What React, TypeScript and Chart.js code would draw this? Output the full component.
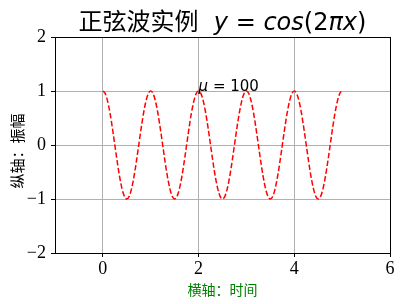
import React, { useEffect, useRef } from "react";
import { Chart, registerables } from "chart.js";

Chart.register(...registerables);

// ---- data ----
const timeValues: number[] = [
  0, 0.05, 0.1, 0.15, 0.2, 0.25, 0.3, 0.35, 0.4, 0.45, 0.5, 0.55, 0.6, 0.65, 0.7, 0.75, 0.8, 0.85, 0.9, 0.95,
  1, 1.05, 1.1, 1.15, 1.2, 1.25, 1.3, 1.35, 1.4, 1.45, 1.5, 1.55, 1.6, 1.65, 1.7, 1.75, 1.8, 1.85, 1.9, 1.95,
  2, 2.05, 2.1, 2.15, 2.2, 2.25, 2.3, 2.35, 2.4, 2.45, 2.5, 2.55, 2.6, 2.65, 2.7, 2.75, 2.8, 2.85, 2.9, 2.95,
  3, 3.05, 3.1, 3.15, 3.2, 3.25, 3.3, 3.35, 3.4, 3.45, 3.5, 3.55, 3.6, 3.65, 3.7, 3.75, 3.8, 3.85, 3.9, 3.95,
  4, 4.05, 4.1, 4.15, 4.2, 4.25, 4.3, 4.35, 4.4, 4.45, 4.5, 4.55, 4.6, 4.65, 4.7, 4.75, 4.8, 4.85, 4.9, 4.95,
  4.98,
];

const amplitudeValues: number[] = [
  1, 0.951, 0.809, 0.588, 0.309, 0, -0.309, -0.588, -0.809, -0.951, -1, -0.951, -0.809, -0.588, -0.309, 0, 0.309, 0.588, 0.809, 0.951,
  1, 0.951, 0.809, 0.588, 0.309, 0, -0.309, -0.588, -0.809, -0.951, -1, -0.951, -0.809, -0.588, -0.309, 0, 0.309, 0.588, 0.809, 0.951,
  1, 0.951, 0.809, 0.588, 0.309, 0, -0.309, -0.588, -0.809, -0.951, -1, -0.951, -0.809, -0.588, -0.309, 0, 0.309, 0.588, 0.809, 0.951,
  1, 0.951, 0.809, 0.588, 0.309, 0, -0.309, -0.588, -0.809, -0.951, -1, -0.951, -0.809, -0.588, -0.309, 0, 0.309, 0.588, 0.809, 0.951,
  1, 0.951, 0.809, 0.588, 0.309, 0, -0.309, -0.588, -0.809, -0.951, -1, -0.951, -0.809, -0.588, -0.309, 0, 0.309, 0.588, 0.809, 0.951,
  0.992,
];

const xTickValues: number[] = [0, 2, 4, 6];
const yTickValues: number[] = [-2, -1, 0, 1, 2];
const xRange: number[] = [-1, 6];
const yRange: number[] = [-2, 2];

const titleChinese = "正弦波实例";
// [text, italic?]
const titleMath: [string, boolean][] = [
  ["y", true],
  [" = ", false],
  ["cos", true],
  ["(2", false],
  ["π", true],
  ["x", true],
  [")", false],
];
const xAxisLabel = "横轴：时间";
const yAxisLabel = "纵轴：振幅";
const annotationPos: number[] = [2, 1];
const annotationMath: [string, boolean][] = [
  ["μ", true],
  [" = 100", false],
];

const CJK = "'Noto Sans CJK SC', 'Noto Sans', sans-serif";
const MATH = "'DejaVu Sans', sans-serif";
const SERIF = "'Liberation Serif', 'DejaVu Serif', serif";

function fmt(v: number): string {
  return v < 0 ? "\u2212" + Math.abs(v) : String(v);
}

type Run = { text: string; font: string };

function drawRuns(ctx: CanvasRenderingContext2D, runs: Run[], x: number, y: number) {
  let cx = x;
  for (const r of runs) {
    ctx.font = r.font;
    ctx.fillText(r.text, cx, y);
    cx += ctx.measureText(r.text).width;
  }
}

function runsWidth(ctx: CanvasRenderingContext2D, runs: Run[]) {
  let w = 0;
  for (const r of runs) {
    ctx.font = r.font;
    w += ctx.measureText(r.text).width;
  }
  return w;
}

const decorPlugin = {
  id: "decor",
  afterDraw(chart: any) {
    const { ctx, chartArea: a, scales } = chart;
    ctx.save();
    // frame (spines)
    ctx.strokeStyle = "#000";
    ctx.lineWidth = 1;
    ctx.strokeRect(
      Math.round(a.left) + 0.5,
      Math.round(a.top) + 0.5,
      Math.round(a.right) - Math.round(a.left),
      Math.round(a.bottom) - Math.round(a.top)
    );

    // title
    const tSize = 24;
    const runs: Run[] = [
      { text: titleChinese, font: `${tSize}px ${CJK}` },
      { text: "  ", font: `${tSize}px ${MATH}` },
      ...titleMath.map(([t, it]) => ({
        text: t,
        font: `${it ? "italic " : ""}${tSize}px ${MATH}`,
      })),
    ];
    ctx.fillStyle = "#000";
    ctx.textBaseline = "alphabetic";
    ctx.textAlign = "left";
    const w = runsWidth(ctx, runs);
    const cx = (a.left + a.right) / 2;
    drawRuns(ctx, runs, cx - w / 2, 30);

    // y axis label
    ctx.save();
    ctx.translate(17, (a.top + a.bottom) / 2 + 6);
    ctx.rotate(-Math.PI / 2);
    ctx.font = `15px ${CJK}`;
    ctx.textAlign = "center";
    ctx.textBaseline = "middle";
    ctx.fillText(yAxisLabel, 0, 0);
    ctx.restore();

    // annotation
    const px = scales.x.getPixelForValue(annotationPos[0]);
    const py = scales.y.getPixelForValue(annotationPos[1]);
    const aruns = annotationMath.map(([t, it]) => ({
      text: t,
      font: `${it ? "italic " : ""}15px ${MATH}`,
    }));
    ctx.textAlign = "left";
    ctx.textBaseline = "alphabetic";
    drawRuns(ctx, aruns, px, py);
    ctx.restore();
  },
};

export default function App() {
  const ref = useRef<HTMLCanvasElement | null>(null);

  useEffect(() => {
    if (!ref.current) return;
    const chart = new Chart(ref.current, {
      type: "line",
      data: {
        datasets: [
          {
            data: timeValues.map((t, i) => ({ x: t, y: amplitudeValues[i] })),
            borderColor: "#ff0000",
            borderWidth: 1.5,
            borderDash: [5.5, 2.4],
            pointRadius: 0,
            fill: false,
            cubicInterpolationMode: "monotone",
          },
        ],
      },
      options: {
        responsive: false,
        animation: false,
        layout: { padding: { top: 37, right: 11, left: 0, bottom: 0 } },
        plugins: {
          legend: { display: false },
          tooltip: { enabled: false },
          title: { display: false },
        },
        scales: {
          x: {
            type: "linear",
            min: xRange[0],
            max: xRange[1],
            afterBuildTicks: (scale: any) => {
              scale.ticks = xTickValues.map((v) => ({ value: v }));
            },
            afterFit: (scale: any) => {
              scale.height = 51;
            },
            grid: {
              color: "#b0b0b0",
              lineWidth: 1,
              tickColor: "#000",
              tickLength: 4,
              drawTicks: true,
            },
            border: { display: false },
            ticks: {
              color: "#000",
              font: { family: SERIF, size: 18 },
              padding: 1,
              maxRotation: 0,
              callback: (v: any) => fmt(Number(v)),
            },
            title: {
              display: true,
              text: xAxisLabel,
              color: "#008000",
              font: { family: CJK, size: 14 },
              padding: { top: 0, bottom: 5.6 },
            },
          },
          y: {
            type: "linear",
            min: yRange[0],
            max: yRange[1],
            afterBuildTicks: (scale: any) => {
              scale.ticks = yTickValues.map((v) => ({ value: v }));
            },
            afterFit: (scale: any) => {
              scale.width = 55;
            },
            grid: {
              color: "#b0b0b0",
              lineWidth: 1,
              tickColor: "#000",
              tickLength: 4,
              drawTicks: true,
            },
            border: { display: false },
            ticks: {
              color: "#000",
              font: { family: SERIF, size: 18 },
              padding: 5,
              callback: (v: any) => fmt(Number(v)),
            },
            title: { display: false },
          },
        },
      },
      plugins: [decorPlugin],
    } as any);
    return () => chart.destroy();
  }, []);

  return (
    <div style={{ position: "absolute", left: 0, top: 0, width: 401, height: 304, background: "#fff" }}>
      <canvas ref={ref} width={401} height={304} style={{ width: 401, height: 304, display: "block" }} />
    </div>
  );
}
